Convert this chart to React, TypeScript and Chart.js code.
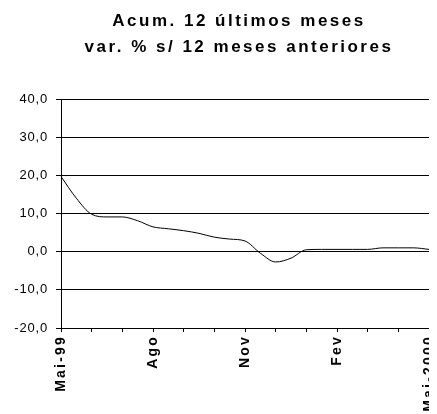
import React, { useEffect, useRef } from "react";
import { Chart, registerables } from "chart.js";

Chart.register(...registerables);

const titleLines = ["Acum. 12 últimos meses", "var. % s/ 12 meses anteriores"];
const months = ["Mai-99", "Jun", "Jul", "Ago", "Set", "Out", "Nov", "Dez", "Jan", "Fev", "Mar", "Abr", "Mai-2000"];
// half-month periods (1ª and 2ª quinzena) from Mai-99 to Mai-2000
const categories: string[] = [];
months.forEach((m, i) => {
  categories.push(m);
  if (i < months.length - 1) categories.push(m + " (2ª quinz.)");
});
const values = [
  19.7, 14.0, 9.8, 9.1, 9.1, 8.1, 6.5, 6.0, 5.5, 4.8, 3.8, 3.3, 2.8,
  -0.4, -2.7, -1.7, 0.5, 0.6, 0.6, 0.6, 0.6, 1.0, 1.0, 1.0, 0.6,
];
const tickLabels = ["Mai-99", "Ago", "Nov", "Fev", "Mai-2000"];
const yMin = -20;
const yMax = 40;
const yStep = 10;

const FONT = "'Liberation Sans', Arial, Helvetica, sans-serif";

function withSpacing(obj: any, method: string, spacing: string) {
  if (!obj || obj["__sp_" + method]) return;
  const orig = obj[method];
  obj[method] = function (...args: any[]) {
    const ctx = this.ctx || this.chart?.ctx;
    const prev = ctx.letterSpacing;
    ctx.letterSpacing = spacing;
    const r = orig.apply(this, args);
    ctx.letterSpacing = prev;
    return r;
  };
  obj["__sp_" + method] = true;
}

const spacingPlugin = {
  id: "spacing",
  afterLayout(chart: any) {
    const t = chart.titleBlock;
    if (t) {
      // shift the title's centring box slightly right, as in the original
      t.left = 41;
      withSpacing(t, "draw", "2.5px");
    }
    withSpacing(chart.scales.x, "drawLabels", "2.2px");
    withSpacing(chart.scales.y, "drawLabels", "0.8px");
  },
};

export default function App() {
  const ref = useRef<HTMLCanvasElement | null>(null);
  useEffect(() => {
    if (!ref.current) return;
    const chart = new Chart(ref.current, {
      type: "line",
      data: {
        labels: categories,
        datasets: [
          {
            data: values,
            borderColor: "#000",
            borderWidth: 1,
            pointRadius: 0,
            fill: false,
            cubicInterpolationMode: "monotone",
          },
        ],
      },
      options: {
        animation: false,
        responsive: true,
        maintainAspectRatio: false,
        layout: { padding: { left: 0, right: 8, top: 0, bottom: 0 } },
        plugins: {
          legend: { display: false },
          tooltip: { enabled: false },
          title: {
            display: true,
            text: titleLines,
            color: "#000",
            font: { family: FONT, size: 17, weight: "bold", lineHeight: 26 / 17 },
            padding: { top: 0, bottom: 39 },
          },
        },
        scales: {
          x: {
            grid: {
              drawOnChartArea: false,
              drawTicks: true,
              tickLength: 4,
              tickColor: (ctx: any) => (ctx.index % 2 === 0 ? "#000" : "rgba(0,0,0,0)"),
            },
            border: { color: "#000", width: 1 },
            ticks: {
              autoSkip: false,
              minRotation: 90,
              maxRotation: 90,
              padding: 3,
              color: "#000",
              font: { family: FONT, size: 14, weight: "bold" },
              callback: (_v: any, index: number) => {
                const lab = categories[index];
                return index % 2 === 0 && tickLabels.includes(lab) ? lab : "";
              },
            },
            afterFit: (s: any) => {
              s.height = 86;
              s.paddingLeft = 0;
              s.paddingRight = 0;
            },
          },
          y: {
            min: yMin,
            max: yMax,
            grid: { color: "#000", lineWidth: 1, drawTicks: true, tickLength: 5, tickColor: "#000" },
            border: { color: "#000", width: 1 },
            ticks: {
              stepSize: yStep,
              padding: 8,
              color: "#000",
              font: { family: FONT, size: 13 },
              callback: (v: any) => Number(v).toFixed(1).replace(".", ","),
            },
            afterFit: (s: any) => {
              s.width = 53;
            },
          },
          y2: {
            position: "right",
            min: yMin,
            max: yMax,
            grid: { drawOnChartArea: false, drawTicks: false },
            border: { color: "#808080", width: 1 },
            ticks: { display: false },
            afterFit: (s: any) => {
              s.width = 0;
            },
          },
        },
      },
      plugins: [spacingPlugin],
    } as any);
    return () => chart.destroy();
  }, []);
  return (
    <div style={{ position: "relative", width: 429, height: 406 }}>
      <canvas ref={ref} />
    </div>
  );
}
